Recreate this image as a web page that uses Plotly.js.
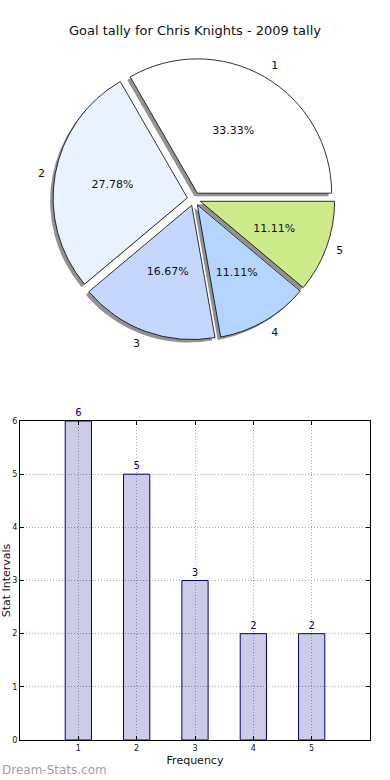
<!DOCTYPE html>
<html>
<head>
<meta charset="utf-8">
<script src="https://cdn.plot.ly/plotly-3.0.1.min.js"></script>
<style>
  html, body { margin: 0; padding: 0; background: #fff; }
  #chart { width: 390px; height: 780px; }
</style>
</head>
<body>
<div id="chart"></div>
<script>
// ---- data ----
const sliceLabels = ["1", "2", "3", "4", "5"];
const goalCounts = [6, 5, 3, 2, 2];
const sliceColors = ["#ffffff", "#eaf1ff", "#c5d7ff", "#b3d5ff", "#cdeb8b"];
const barCategories = [1, 2, 3, 4, 5];
const barValues = [6, 5, 3, 2, 2];
const chartTitle = "Goal tally for Chris Knights - 2009 tally";

const W = 390, H = 780;
const FONT = "DejaVu Sans, sans-serif";
function fx(px) { return px / W; }
function fy(px) { return 1 - px / H; }

// pie geometry (px)
const cx = 194, cy = 199, half = 141;
const pull = sliceLabels.map(() => 0.05);
const ROT = -30; // first slice spans 3 o'clock to 11 o'clock, counterclockwise
const PCT = "%{percent:.2%}";

function dom(h, dx, dy) {
  return { x: [fx(cx + dx - h), fx(cx + dx + h)], y: [fy(cy + dy + h), fy(cy + dy - h)] };
}

const common = { type: "pie", labels: sliceLabels, values: goalCounts, sort: false,
  rotation: ROT, direction: "counterclockwise", pull: pull, hoverinfo: "skip", showlegend: false };

const shadow = Object.assign({}, common, {
  domain: dom(half, -3, 3),
  marker: { colors: sliceLabels.map(() => "rgba(110,110,110,0.75)"), line: { width: 0 } },
  textinfo: "none"
});

// large slices: percentage inside the main pie
const main = Object.assign({}, common, {
  domain: dom(half, 0, 0),
  marker: { colors: sliceColors, line: { color: "#000", width: 0.8 } },
  texttemplate: goalCounts.map((v, i) => i < 2 ? PCT : ""), textposition: "inside",
  insidetextorientation: "horizontal",
  textfont: { family: FONT, size: 11, color: "#111" }
});

// small slices: percentage from a smaller transparent pie so it sits nearer the centre
const inner = Object.assign({}, common, {
  domain: dom(half * 0.8, 0, 0),
  marker: { colors: sliceLabels.map(() => "rgba(0,0,0,0)"), line: { width: 0 } },
  texttemplate: goalCounts.map((v, i) => i >= 2 ? PCT : ""), textposition: "inside",
  insidetextorientation: "horizontal",
  textfont: { family: FONT, size: 11, color: "#111" }
});

// slice names outside, from a slightly larger transparent pie
const labelTrace = Object.assign({}, common, {
  domain: dom(half * 1.05, 0, 0),
  marker: { colors: sliceLabels.map(() => "rgba(0,0,0,0)"), line: { width: 0 } },
  textinfo: "label", textposition: "outside",
  outsidetextfont: { family: FONT, size: 11, color: "#111" }
});

const bars = {
  type: "bar", x: barCategories, y: barValues, width: 0.45,
  marker: { color: "rgba(0,0,128,0.2)", line: { color: "#000080", width: 1 } },
  text: barValues.map(String), textposition: "outside", cliponaxis: false,
  textfont: { family: FONT, size: 10, color: "#000080" },
  xaxis: "x", yaxis: "y", hoverinfo: "skip", showlegend: false
};

const axisCommon = {
  ticks: "inside", ticklen: 4, tickcolor: "#000",
  showline: true, linecolor: "#000", linewidth: 1, mirror: "ticks",
  showgrid: true, gridcolor: "#aaaaaa", griddash: "1px,2px", gridwidth: 1,
  zeroline: false, tickfont: { family: FONT, size: 8, color: "#111" }, fixedrange: true
};

const layout = {
  width: W, height: H,
  margin: { l: 0, r: 0, t: 0, b: 0 },
  paper_bgcolor: "#fff", plot_bgcolor: "#fff",
  font: { family: FONT, color: "#111" },
  title: { text: chartTitle, font: { family: FONT, size: 13, color: "#111" },
           x: 0.5, xanchor: "center", y: fy(30), yanchor: "middle", yref: "container" },
  xaxis: Object.assign({}, axisCommon, {
    domain: [fx(20), fx(370)], range: [0, 6],
    tickvals: barCategories, ticktext: barCategories.map(String),
    title: { text: "Frequency", font: { family: FONT, size: 11, color: "#111" }, standoff: 4 }
  }),
  yaxis: Object.assign({}, axisCommon, {
    domain: [fy(740), fy(421)], range: [0, 6], dtick: 1,
    title: { text: "Stat Intervals", font: { family: FONT, size: 11, color: "#111" }, standoff: 0 }
  }),
  annotations: [{
    text: "Dream-Stats.com", xref: "paper", yref: "paper",
    x: 0, xanchor: "left", y: fy(770), yanchor: "middle", showarrow: false,
    font: { family: FONT, size: 12, color: "#a0a0a0" }
  }]
};

Plotly.newPlot("chart", [shadow, main, inner, labelTrace, bars], layout, { staticPlot: true, displayModeBar: false });
</script>
</body>
</html>
